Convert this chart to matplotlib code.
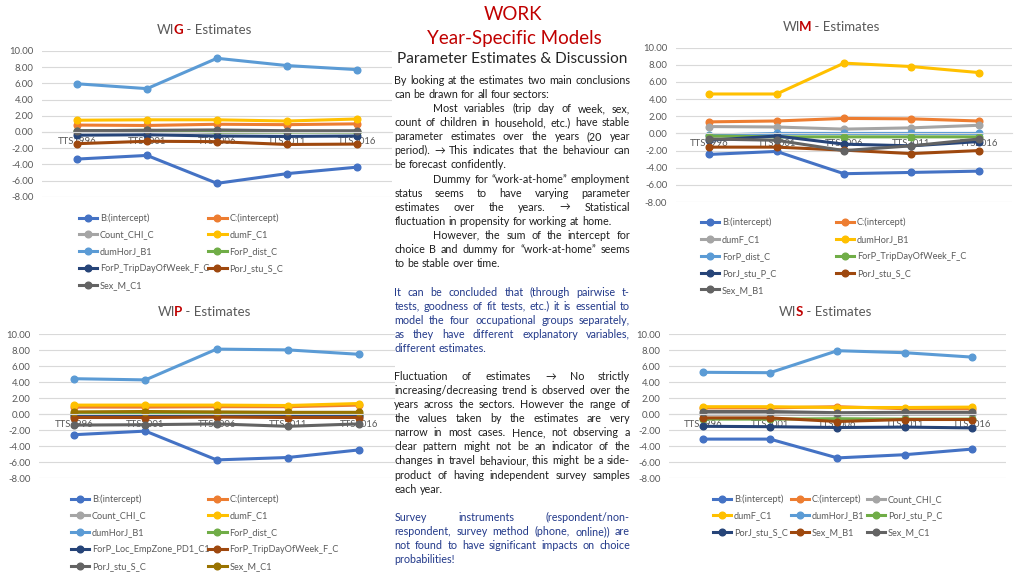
import matplotlib
matplotlib.use('Agg')
import matplotlib.pyplot as plt
from matplotlib.ticker import FormatStrFormatter
from matplotlib.textpath import TextPath
from matplotlib.font_manager import FontProperties

W, H = 1024, 576
plt.rcParams['font.family'] = ['Lato', 'DejaVu Sans']

years = ['TTS1996', 'TTS2001', 'TTS2006', 'TTS2011', 'TTS2016']
office = ['#4472C4', '#ED7D31', '#A5A5A5', '#FFC000', '#5B9BD5',
          '#70AD47', '#264478', '#9E480E', '#636363', '#997300']

# WIG
wig_names = ['B:(intercept)', 'C:(intercept)', 'Count_CHI_C', 'dumF_C1', 'dumHorJ_B1',
             'ForP_dist_C', 'ForP_TripDayOfWeek_F_C', 'PorJ_stu_S_C', 'Sex_M_C1']
wig_values = [
    [-3.35, -2.9, -6.35, -5.15, -4.35],
    [0.85, 0.8, 0.95, 0.9, 1.0],
    [0.05, 0.05, -0.05, 0.0, 0.0],
    [1.45, 1.5, 1.5, 1.35, 1.6],
    [5.95, 5.35, 9.1, 8.2, 7.7],
    [0.15, 0.2, 0.0, 0.0, 0.0],
    [-0.4, -0.35, -0.5, -0.55, -0.5],
    [-1.45, -1.15, -1.2, -1.55, -1.5],
    [0.15, 0.2, 0.25, 0.15, 0.15],
]

# WIM
wim_names = ['B:(intercept)', 'C:(intercept)', 'dumF_C1', 'dumHorJ_B1', 'ForP_dist_C',
             'ForP_TripDayOfWeek_F_C', 'PorJ_stu_P_C', 'PorJ_stu_S_C', 'Sex_M_B1']
wim_values = [
    [-2.45, -2.1, -4.7, -4.55, -4.4],
    [1.35, 1.45, 1.75, 1.7, 1.45],
    [0.8, 0.75, 0.5, 0.65, 0.95],
    [4.6, 4.6, 8.2, 7.8, 7.1],
    [-0.2, 0.0, 0.0, 0.0, 0.0],
    [-0.3, -0.4, -0.4, -0.4, -0.4],
    [-0.8, -0.3, -1.25, -1.45, -0.95],
    [-1.6, -1.6, -1.95, -2.35, -2.0],
    [-0.65, -0.8, -2.0, -1.45, -0.65],
]

# WIP
wip_names = ['B:(intercept)', 'C:(intercept)', 'Count_CHI_C', 'dumF_C1', 'dumHorJ_B1',
             'ForP_dist_C', 'ForP_Loc_EmpZone_PD1_C1', 'ForP_TripDayOfWeek_F_C',
             'PorJ_stu_S_C', 'Sex_M_C1']
wip_values = [
    [-2.55, -2.1, -5.7, -5.4, -4.45],
    [0.9, 0.9, 0.95, 0.95, 1.15],
    [0.0, -0.05, -0.05, -0.05, -0.05],
    [1.15, 1.15, 1.15, 1.1, 1.35],
    [4.45, 4.3, 8.15, 8.05, 7.5],
    [0.1, 0.1, 0.1, 0.05, 0.05],
    [-0.15, -0.15, -0.15, -0.2, -0.2],
    [-0.4, -0.4, -0.35, -0.4, -0.4],
    [-1.35, -1.3, -1.2, -1.5, -1.2],
    [0.3, 0.35, 0.3, 0.25, 0.25],
]

# WIS
wis_names = ['B:(intercept)', 'C:(intercept)', 'Count_CHI_C', 'dumF_C1', 'dumHorJ_B1',
             'PorJ_stu_P_C', 'PorJ_stu_S_C', 'Sex_M_B1', 'Sex_M_C1']
wis_values = [
    [-3.1, -3.1, -5.45, -5.05, -4.35],
    [0.8, 0.8, 0.95, 0.7, 0.7],
    [0.0, 0.0, -0.05, 0.0, 0.0],
    [0.95, 0.95, 0.85, 0.85, 0.9],
    [5.25, 5.2, 7.95, 7.7, 7.15],
    [-0.6, -0.6, -0.55, -0.6, -0.6],
    [-1.5, -1.55, -1.65, -1.6, -1.7],
    [-0.45, -0.45, -0.9, -0.65, -0.65],
    [0.35, 0.35, 0.2, 0.25, 0.25],
]

body_paras = [
    # (first line y, colour, indent first line, lines)
    (80.7, '#1E1E1E', False, [
        'By looking at the estimates two main conclusions',
        'can be drawn for all four sectors:']),
    (108.8, '#1E1E1E', True, [
        'Most variables (trip day of week, sex,',
        'count of children in household, etc.) have stable',
        'parameter estimates over the years (20 year',
        'period). \u2192 This indicates that the behaviour can',
        'be forecast confidently.']),
    (179.1, '#1E1E1E', True, [
        'Dummy for \u201cwork-at-home\u201d employment',
        'status seems to have varying parameter',
        'estimates over the years. \u2192 Statistical',
        'fluctuation in propensity for working at home.']),
    (235.3, '#1E1E1E', True, [
        'However, the sum of the intercept for',
        'choice B and dummy for \u201cwork-at-home\u201d seems',
        'to be stable over time.']),
    (292.0, '#22398A', False, [
        'It can be concluded that (through pairwise t-',
        'tests, goodness of fit tests, etc.) it is essential to',
        'model the four occupational groups separately,',
        'as they have different explanatory variables,',
        'different estimates.']),
    (376.7, '#1E1E1E', False, [
        'Fluctuation of estimates \u2192 No strictly',
        'increasing/decreasing trend is observed over the',
        'years across the sectors. However the range of',
        'the values taken by the estimates are very',
        'narrow in most cases. Hence, not observing a',
        'clear pattern might not be an indicator of the',
        'changes in travel behaviour, this might be a side-',
        'product of having independent survey samples',
        'each year.']),
    (517.3, '#22398A', False, [
        'Survey instruments (respondent/non-',
        'respondent, survey method (phone, online)) are',
        'not found to have significant impacts on choice',
        'probabilities!']),
]

fig = plt.figure(figsize=(W / 100, H / 100), dpi=100)
fig.patch.set_facecolor('white')
renderer = fig.canvas.get_renderer()


def fx(x):
    return x / W


def fy(y):
    return 1 - y / H


def width_px(s, **kw):
    t = fig.text(0, 0, s, **kw)
    w = t.get_window_extent(renderer).width
    t.remove()
    return w


def fit_size(s, target, base=10, **kw):
    return base * target / width_px(s, size=base, **kw)


def left_bearing_px(s, size, weight):
    fp = FontProperties(family='Lato', weight=weight, size=size)
    return TextPath((0, 0), s, prop=fp).get_extents().x0 * 100 / 72


def draw_title(xc, y, letter, size):
    parts = [('WI', '#595959', 'normal'), (letter, '#C00000', 'bold'),
             (' - Estimates', '#595959', 'normal')]
    widths = [width_px(s, size=size, weight=wt) for s, c, wt in parts]
    kern = max(left_bearing_px(letter, size, 'bold'), 0)
    x = xc - (sum(widths) - kern) / 2
    for i, ((s, c, wt), wd) in enumerate(zip(parts, widths)):
        if i == 1:
            x -= kern
        fig.text(fx(x), fy(y), s, color=c, weight=wt, size=size, va='center')
        x += wd


def chart(box, letter, names, values, title_xy, text_x, row1_y, ncol):
    left, top, right, bottom = box
    ax = fig.add_axes([fx(left), fy(bottom), (right - left) / W, (bottom - top) / H])
    xs = list(range(len(years)))
    for i, (name, vals) in enumerate(zip(names, values)):
        ax.plot(xs, vals, color=office[i], lw=2.2, marker='o', ms=4.8,
                label=name, solid_joinstyle='round')
    ax.set_xlim(-0.5, len(years) - 0.5)
    ax.set_ylim(-8, 10)
    ax.set_yticks(range(-8, 11, 2))
    ax.yaxis.set_major_formatter(FormatStrFormatter('%.2f'))
    ax.set_xticks(xs)
    ax.set_xticklabels(years)
    ax.grid(axis='y', color='#D9D9D9', lw=0.8)
    for s in ['top', 'left', 'right']:
        ax.spines[s].set_visible(False)
    ax.spines['bottom'].set_position(('data', 0))
    ax.spines['bottom'].set_color('#D9D9D9')
    ax.spines['bottom'].set_linewidth(0.8)
    ax.tick_params(length=0, labelsize=6.8, labelcolor='#595959')
    ax.tick_params(axis='y', pad=6)
    ax.tick_params(axis='x', pad=4)
    ax.patch.set_alpha(0)

    tsize = fit_size('WIG - Estimates', 95)
    draw_title(title_xy[0], title_xy[1], letter, tsize)

    handles, labels = ax.get_legend_handles_labels()
    order = [i for c in range(ncol) for i in range(c, len(handles), ncol)]
    fs = 6.6
    fs_px = fs * 100 / 72
    hl, htp = 2.0, 0.3
    col0 = [labels[i] for i in range(0, len(labels), ncol)]
    maxw = max(width_px(s, size=fs) for s in col0)
    colsp = ((text_x[1] - text_x[0]) - maxw - (hl + htp) * fs_px) / fs_px
    anchor = [fx(text_x[0] - (hl + htp) * fs_px), fy(row1_y - 6)]
    leg = fig.legend([handles[i] for i in order], [labels[i] for i in order],
                     ncol=ncol, loc='upper left', bbox_to_anchor=anchor,
                     bbox_transform=fig.transFigure, frameon=False,
                     fontsize=fs, labelcolor='#595959', borderpad=0,
                     borderaxespad=0, handlelength=hl, handletextpad=htp,
                     labelspacing=0.85, columnspacing=colsp)
    fig.canvas.draw()
    bb = leg.get_texts()[0].get_window_extent(renderer)
    dx = text_x[0] - bb.x0
    dy = (H - row1_y) - (bb.y0 + bb.y1) / 2
    leg.set_bbox_to_anchor([anchor[0] + dx / W, anchor[1] + dy / H],
                           transform=fig.transFigure)


chart((42, 51, 392, 196.7), 'G', wig_names, wig_values, (204, 29.5), (100, 229.3), 218, 2)
chart((675.6, 47.7, 1012.4, 202), 'M', wim_names, wim_values, (831, 26.7), (721.7, 856.7), 222.7, 2)
chart((38.7, 334.3, 394.6, 478.3), 'P', wip_names, wip_values, (204, 312.3), (91.7, 229.3), 499, 2)
chart((669, 334.3, 1005.7, 478.3), 'S', wis_names, wis_values, (825, 312), (734, 811.7, 890), 499, 3)

# middle heading
hsize = fit_size('Year-Specific Models', 175)
fig.text(fx(512.5), fy(15), 'WORK', color='#C00000', size=hsize, ha='center', va='center')
fig.text(fx(514), fy(38.3), 'Year-Specific Models', color='#C00000', size=hsize,
         ha='center', va='center')
psize = fit_size('Parameter Estimates & Discussion', 230)
fig.text(fx(511.7), fy(59.3), 'Parameter Estimates & Discussion', color='#262626',
         size=psize, ha='center', va='center')

# justified body text
LEFT, RIGHT, INDENT, PITCH = 394.3, 630.0, 39.0, 14.05
BODY = fit_size('By looking at the estimates two main conclusions', 233)
space = width_px('a a', size=BODY) - width_px('aa', size=BODY)
for y0, color, indent, lines in body_paras:
    for k, line in enumerate(lines):
        y = y0 + k * PITCH
        words = line.split()
        x0 = LEFT + (INDENT if (indent and k == 0) else 0)
        widths = [width_px(w, size=BODY) for w in words]
        last = k == len(lines) - 1
        if not last and len(words) > 1:
            gap = max((RIGHT - x0 - sum(widths)) / (len(words) - 1), 0.6 * space)
        else:
            gap = space
        x = x0
        for w, wd in zip(words, widths):
            fig.text(fx(x), fy(y), w, color=color, size=BODY, va='center')
            x += wd + gap

fig.savefig('out.png', dpi=100, facecolor='white')
